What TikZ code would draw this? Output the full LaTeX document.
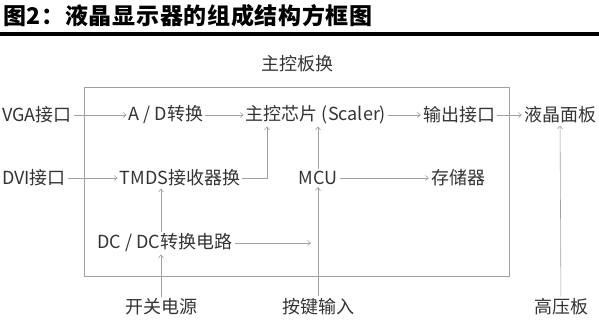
\documentclass[tikz,border=0pt]{standalone}
\usepackage{fontspec}
\setmainfont{Noto Sans CJK SC}
\usetikzlibrary{arrows.meta,positioning}
\definecolor{inkgray}{HTML}{333333}
\definecolor{wiregray}{HTML}{A0A0A0}

\begin{document}
\begin{tikzpicture}[x=1pt,y=-1pt,
    blk/.style={font=\fontsize{18}{20}\selectfont, text=inkgray, inner sep=2pt},
    wire/.style={-{Straight Barb[length=3pt,width=5pt]}, line width=0.6pt, wiregray}]
    \useasboundingbox (0,0) rectangle (599,319);

    % Title and rule
    \node[anchor=west, inner sep=0pt, font=\fontsize{23}{25}\selectfont\bfseries\addfontfeatures{LetterSpace=3}] (title) at (3,16) {图2：液晶显示器的组成结构方框图};
    \draw[line width=3.5pt] (0,34) -- (599,34);

    % Main board frame
    \draw[line width=0.7pt, wiregray] (84,87) rectangle (509,276);
    \node[blk] (board) at (297,64) {主控板换};

    % Row 1
    \node[blk] (vga) at (37,115) {VGA接口};
    \node[blk] (adc) at (166,115) {A / D转换};
    \node[blk] (scaler) at (316,115) {主控芯片 (Scaler)};
    \node[blk] (outp) at (459,115) {输出接口};
    \node[blk] (panel) at (560,115) {液晶面板};

    % Row 2
    \node[blk] (dvi) at (34,178) {DVI接口};
    \node[blk] (tmds) at (180,178) {TMDS接收器换};
    \node[blk] (mcu) at (318,178) {MCU};
    \node[blk] (mem) at (458,178) {存储器};

    % Row 3
    \node[blk] (dcdc) at (165,243) {DC / DC转换电路};

    % Outside inputs
    \node[blk] (psu) at (161,307) {开关电源};
    \node[blk] (keys) at (318,307) {按键输入};
    \node[blk] (hv) at (561,307) {高压板};

    % Signal path
    \draw[wire] (vga) -- (adc);
    \draw[wire] (adc) -- (scaler);
    \draw[wire] (scaler) -- (outp);
    \draw[wire] (outp) -- (panel);
    \draw[wire] (dvi) -- (tmds);
    \draw[wire] (tmds.east) -| ([xshift=-49pt]scaler.south);
    \draw[wire] (mcu) -- (mcu |- scaler.south);
    \draw[wire] (mcu) -- (mem);

    % Power and keys
    \draw[wire] (psu) -- (psu |- dcdc.south);
    \draw[wire] (dcdc.north -| psu) -- (psu |- tmds.south);
    \draw[wire] (dcdc.east) -- ([xshift=-7pt]dcdc.east -| mcu);
    \draw[wire] (keys) -- (mcu);
    \draw[wire] (hv) -- (panel);
\end{tikzpicture}
\end{document}
